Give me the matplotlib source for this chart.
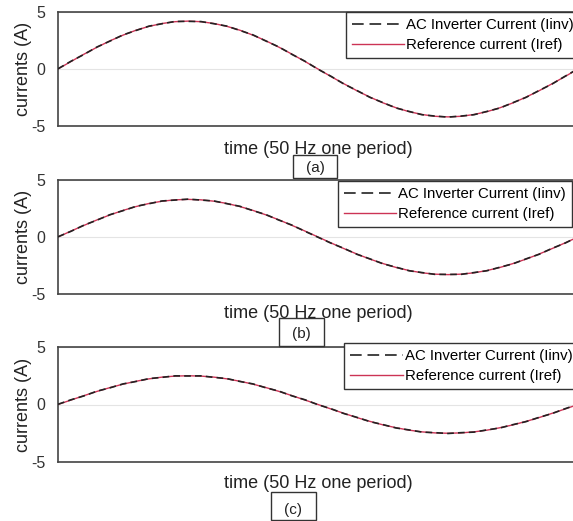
import numpy as np
import matplotlib
matplotlib.use('Agg')
import matplotlib.pyplot as plt
from matplotlib.patches import Rectangle
from matplotlib.lines import Line2D

plt.rcParams['font.family'] = ['Liberation Sans', 'DejaVu Sans']

# time samples over one 50 Hz period (ms)
t_ms = np.arange(0, 20.5, 0.5)

# reference current (Iref)
iref_a = [0, 0.66, 1.30, 1.91, 2.47, 2.97, 3.40, 3.74, 3.99, 4.15, 4.20, 4.15, 3.99, 3.74, 3.40, 2.97, 2.47, 1.91, 1.30, 0.66,
          0, -0.66, -1.30, -1.91, -2.47, -2.97, -3.40, -3.74, -3.99, -4.15, -4.20, -4.15, -3.99, -3.74, -3.40, -2.97, -2.47, -1.91, -1.30, -0.66, 0]
iref_b = [0, 0.52, 1.02, 1.50, 1.94, 2.33, 2.67, 2.94, 3.14, 3.26, 3.30, 3.26, 3.14, 2.94, 2.67, 2.33, 1.94, 1.50, 1.02, 0.52,
          0, -0.52, -1.02, -1.50, -1.94, -2.33, -2.67, -2.94, -3.14, -3.26, -3.30, -3.26, -3.14, -2.94, -2.67, -2.33, -1.94, -1.50, -1.02, -0.52, 0]
iref_c = [0, 0.39, 0.77, 1.14, 1.47, 1.77, 2.02, 2.23, 2.38, 2.47, 2.50, 2.47, 2.38, 2.23, 2.02, 1.77, 1.47, 1.14, 0.77, 0.39,
          0, -0.39, -0.77, -1.14, -1.47, -1.77, -2.02, -2.23, -2.38, -2.47, -2.50, -2.47, -2.38, -2.23, -2.02, -1.77, -1.47, -1.14, -0.77, -0.39, 0]

# AC inverter current (Iinv), tracks the reference closely
iinv_a = [0.02, 0.68, 1.28, 1.93, 2.45, 2.99, 3.38, 3.76, 3.97, 4.17, 4.18, 4.16, 3.97, 3.76, 3.38, 2.99, 2.45, 1.93, 1.28, 0.68,
          -0.02, -0.64, -1.32, -1.89, -2.49, -2.95, -3.42, -3.72, -4.01, -4.13, -4.22, -4.13, -4.01, -3.72, -3.42, -2.95, -2.49, -1.89, -1.32, -0.64, 0.02]
iinv_b = [0.02, 0.50, 1.04, 1.48, 1.96, 2.31, 2.69, 2.92, 3.16, 3.24, 3.32, 3.24, 3.16, 2.92, 2.69, 2.31, 1.96, 1.48, 1.04, 0.50,
          -0.02, -0.54, -1.00, -1.52, -1.92, -2.35, -2.65, -2.96, -3.12, -3.28, -3.28, -3.28, -3.12, -2.96, -2.65, -2.35, -1.92, -1.52, -1.00, -0.54, 0.02]
iinv_c = [0.02, 0.41, 0.75, 1.16, 1.45, 1.79, 2.00, 2.25, 2.36, 2.49, 2.48, 2.49, 2.36, 2.25, 2.00, 1.79, 1.45, 1.16, 0.75, 0.41,
          -0.02, -0.37, -0.79, -1.12, -1.49, -1.75, -2.04, -2.21, -2.40, -2.45, -2.52, -2.45, -2.40, -2.21, -2.04, -1.75, -1.49, -1.12, -0.79, -0.37, 0.02]

panel_names = ['(a)', '(b)', '(c)']
y_ticks = [-5, 0, 5]

W, H = 573, 521
fig = plt.figure(figsize=(W / 100, H / 100), dpi=100)

def fx(px):
    return px / W

def fy(py):
    return 1 - py / H

# panel boxes in pixels: (top, bottom)
panels = [(12, 126), (180, 294), (347, 462)]
legend_right = [580, 572, 579]
legend_top = [12, 181, 343]
xlabel_y = [150, 313, 483]
# (x0, y0, x1, y1) of the small caption boxes and their text centres
cap_box = [(293, 155, 337, 178), (279, 318, 324, 346), (271, 492, 316, 520)]
cap_txt = [(315, 168), (301, 334), (293, 510)]

series = [(iref_a, iinv_a), (iref_b, iinv_b), (iref_c, iinv_c)]

inv_color = '#222222'
ref_color = '#cc3355'

for k in range(3):
    top, bot = panels[k]
    ax = fig.add_axes([fx(58), fy(bot), fx(578) - fx(58), (bot - top) / H])
    iref, iinv = series[k]
    ax.plot(t_ms, iinv, color=inv_color, lw=1.2, dashes=(4, 2.5), zorder=3)
    ax.plot(t_ms, iref, color=ref_color, lw=1.0, zorder=2)
    ax.set_xlim(0, 20)
    ax.set_ylim(-5, 5)
    ax.set_yticks(y_ticks)
    ax.set_yticklabels([str(v) for v in y_ticks], fontsize=11.5, color='#333333')
    ax.set_xticks([])
    ax.tick_params(axis='y', length=0, pad=9)
    ax.yaxis.grid(True, color='#e4e4e4', lw=0.8)
    ax.set_axisbelow(True)
    for s in ax.spines.values():
        s.set_color('#444444')
        s.set_linewidth(1.2)
    ax.set_ylabel('currents (A)', fontsize=13, color='#222222')
    ax.yaxis.set_label_coords(-0.05, 0.5)

    h_inv = Line2D([], [], color=inv_color, lw=1.2, dashes=(7, 3.5))
    h_ref = Line2D([], [], color=ref_color, lw=1.0)
    leg = ax.legend([h_inv, h_ref], ['AC Inverter Current (Iinv)', 'Reference current (Iref)'],
                    loc='upper right', bbox_to_anchor=(fx(legend_right[k]), fy(legend_top[k])),
                    bbox_transform=fig.transFigure, fontsize=10.8, handlelength=3.5,
                    handletextpad=0.15, borderpad=0.4, labelspacing=0.4, borderaxespad=0,
                    fancybox=False, framealpha=1, edgecolor='#333333')
    leg.get_frame().set_linewidth(1.0)

    fig.text(fx(318), fy(xlabel_y[k]), 'time (50 Hz one period)', fontsize=13,
             ha='center', va='center', color='#222222')

    x0, y0, x1, y1 = cap_box[k]
    fig.add_artist(Rectangle((fx(x0), fy(y1)), fx(x1) - fx(x0), (y1 - y0) / H,
                             transform=fig.transFigure, fill=False, edgecolor='#333333', lw=1.0))
    fig.text(fx(cap_txt[k][0]), fy(cap_txt[k][1]), panel_names[k], fontsize=11,
             ha='center', va='center', color='#222222')

fig.savefig('out.png', dpi=100)
